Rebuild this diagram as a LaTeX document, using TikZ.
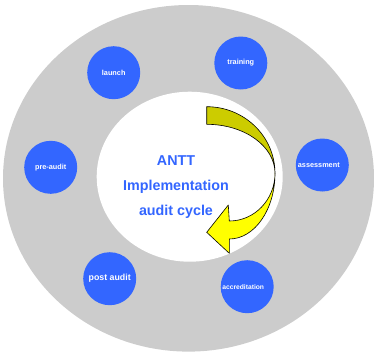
\documentclass[tikz,border=0pt]{standalone}
\usepackage{fontspec}
\setmainfont{Liberation Sans}
\definecolor{ringgray}{HTML}{CCCCCC}
\definecolor{stepblue}{HTML}{3366FF}
\definecolor{arrowolive}{HTML}{CCCC00}
\definecolor{arrowyellow}{HTML}{FFFF00}
\begin{document}
\begin{tikzpicture}[x=1pt,y=-1pt,
 stage/.style={circle,fill=stepblue,minimum size=53pt,inner sep=0pt,text=white,font=\fontsize{7.3}{8}\selectfont\bfseries},
 title/.style={text=stepblue,font=\fontsize{14.3}{16}\selectfont\bfseries,anchor=base,inner sep=0pt},
 band/.style={draw=black,line width=0.6pt,line join=round}]
\useasboundingbox (0,0) rectangle (374,354);
\fill[ringgray] (188.5,178.3) ellipse [x radius=185.5, y radius=173.3];
\fill[white] (189.7,176.7) ellipse [x radius=93, y radius=85];
% curved arrow
\draw[band,fill=arrowolive] (206.7,106.7) .. controls (244.4,106.7) and (275,136.5) .. (275,173.3)
  .. controls (275,146.2) and (244.4,124.3) .. (206.7,124.3) -- cycle;
\draw[band,fill=arrowyellow] (275,173.3) .. controls (275,209.6) and (254.5,239) .. (229.3,239)
  -- (229.3,253.3) -- (206.7,232.3) -- (228.3,205) -- (229.3,221)
  .. controls (254.5,221) and (275,199.6) .. (275,173.3) -- cycle;
% title
\node[title] (t1) at (176,165) {ANTT};
\node[title] (t2) at (176,190) {Implementation};
\node[title] (t3) at (176,215) {audit cycle};
% stages
\node[stage] (launch) at (113.7,72.7) {launch};
\node[stage] (training) at (240.8,63) {training};
\node[stage] (assessment) at (322.3,165) {assessment\hspace*{7pt}};
\node[stage] (preaudit) at (50.7,167.3) {pre-audit};
\node[stage] (postaudit) at (109.7,278.7) {\fontsize{8.8}{10}\selectfont post audit};
\node[stage] (accred) at (247.2,286.7) {\fontsize{6.7}{8}\selectfont accreditation\hspace*{8pt}};
\end{tikzpicture}
\end{document}
